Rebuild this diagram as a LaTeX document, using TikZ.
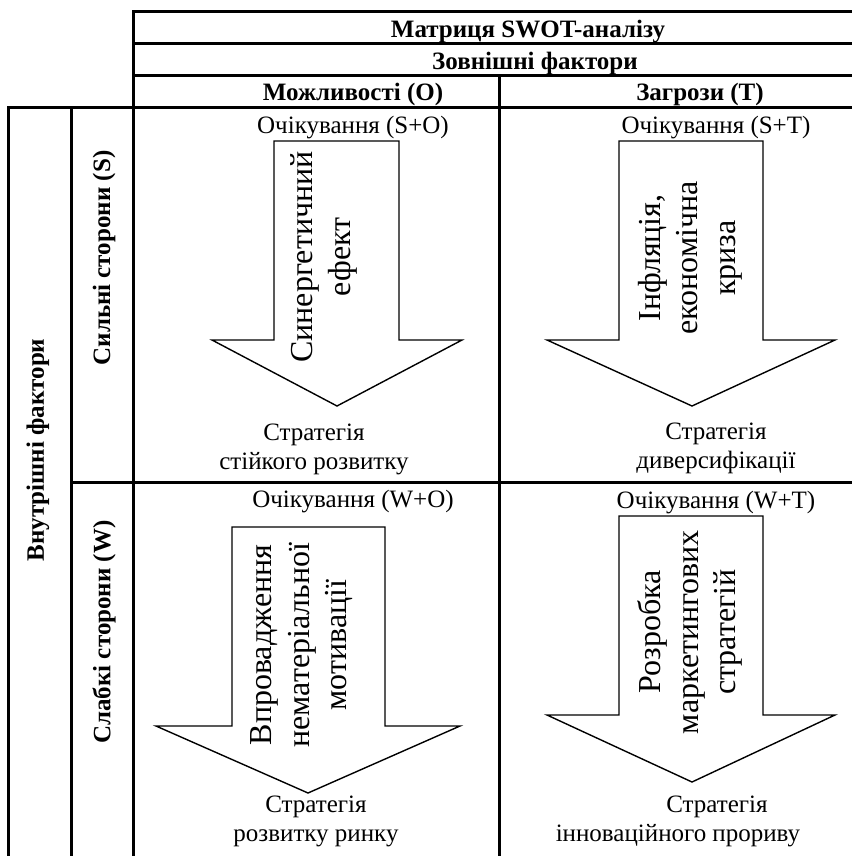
\documentclass[tikz,border=0pt]{standalone}
\usepackage{fontspec}
\setmainfont{Liberation Serif}
\begin{document}
\begin{tikzpicture}[x=1pt,y=-1pt,
  grid/.style={line width=3pt, line cap=rect},
  bigarrow/.style={draw, line width=1.4pt, line join=miter, fill=white},
  body/.style={font=\fontsize{25}{29}\selectfont, inner sep=0pt},
  hdr/.style={font=\bfseries\fontsize{25}{29}\selectfont, inner sep=0pt},
  inarrow/.style={font=\fontsize{32}{37.5}\selectfont, inner sep=0pt, rotate=90, align=center},
  side/.style={font=\bfseries\fontsize{25}{29}\selectfont, inner sep=0pt, rotate=90}]
\useasboundingbox (0,0) rectangle (851,856);
\fill[white] (0,0) rectangle (851,856);
% table grid
\draw[grid] (851,12) -- (133,12) -- (133,860);
\draw[grid] (133,44) -- (860,44);
\draw[grid] (133,76) -- (860,76);
\draw[grid] (8,108) -- (860,108);
\draw[grid] (499,76) -- (499,860);
\draw[grid] (8,108) -- (8,860);
\draw[grid] (71,108) -- (71,860);
\draw[grid] (71,482) -- (860,482);
% header texts
\node[hdr, anchor=base] (title) at (528,38) {Матриця SWOT-аналізу};
\node[hdr, anchor=base] (ext) at (535,69.5) {Зовнішні фактори};
\node[hdr, anchor=base] (opp) at (353,101) {Можливості (O)};
\node[hdr, anchor=base] (thr) at (700,101) {Загрози (T)};
% side texts
\node[side] (intf) at (38,450) {Внутрішні фактори};
\node[side] (str) at (104,258) {Сильні сторони (S)};
\node[side] (weak) at (104,632) {Слабкі сторони (W)};
% arrows
\draw[bigarrow] (274,141) -- (399,141) -- (399,340) -- (462,340) -- (337,406) -- (212,340) -- (274,340) -- cycle;
\draw[bigarrow] (619,141) -- (763,141) -- (763,340) -- (835,340) -- (692,406) -- (547,340) -- (619,340) -- cycle;
\draw[bigarrow] (232,527) -- (385,527) -- (385,726) -- (460,726) -- (308,793) -- (156,726) -- (232,726) -- cycle;
\draw[bigarrow] (619,516) -- (763,516) -- (763,715) -- (835,715) -- (692,782) -- (547,715) -- (619,715) -- cycle;
% expectation texts
\node[body, anchor=base] (eso) at (353,133) {Очікування (S+O)};
\node[body, anchor=base] (est) at (716,133) {Очікування (S+T)};
\node[body, anchor=base] (ewo) at (353,507) {Очікування (W+O)};
\node[body, anchor=base] (ewt) at (716,508) {Очікування (W+T)};
% texts inside arrows
\node[inarrow] (aso) at (324,257) {Синергетичний\\ефект};
\node[inarrow] (ast) at (690,258) {Інфляція,\\економічна\\криза};
\node[inarrow] (awo) at (302,645) {Впровадження\\нематеріальної\\мотивації};
\node[inarrow] (awt) at (690,632) {Розробка\\маркетингових\\стратегій};
% strategy texts
\node[body, align=center] (sso) at (314,449) {Стратегія\\стійкого розвитку};
\node[body, align=center] (sst) at (716,448) {Стратегія\\диверсифікації};
\node[body, align=center] (swo) at (316,821) {Стратегія\\розвитку ринку};
\node[body, align=center] (swt) at (678,821) {\hspace*{78pt}Стратегія\\інноваційного прориву};
\end{tikzpicture}
\end{document}
